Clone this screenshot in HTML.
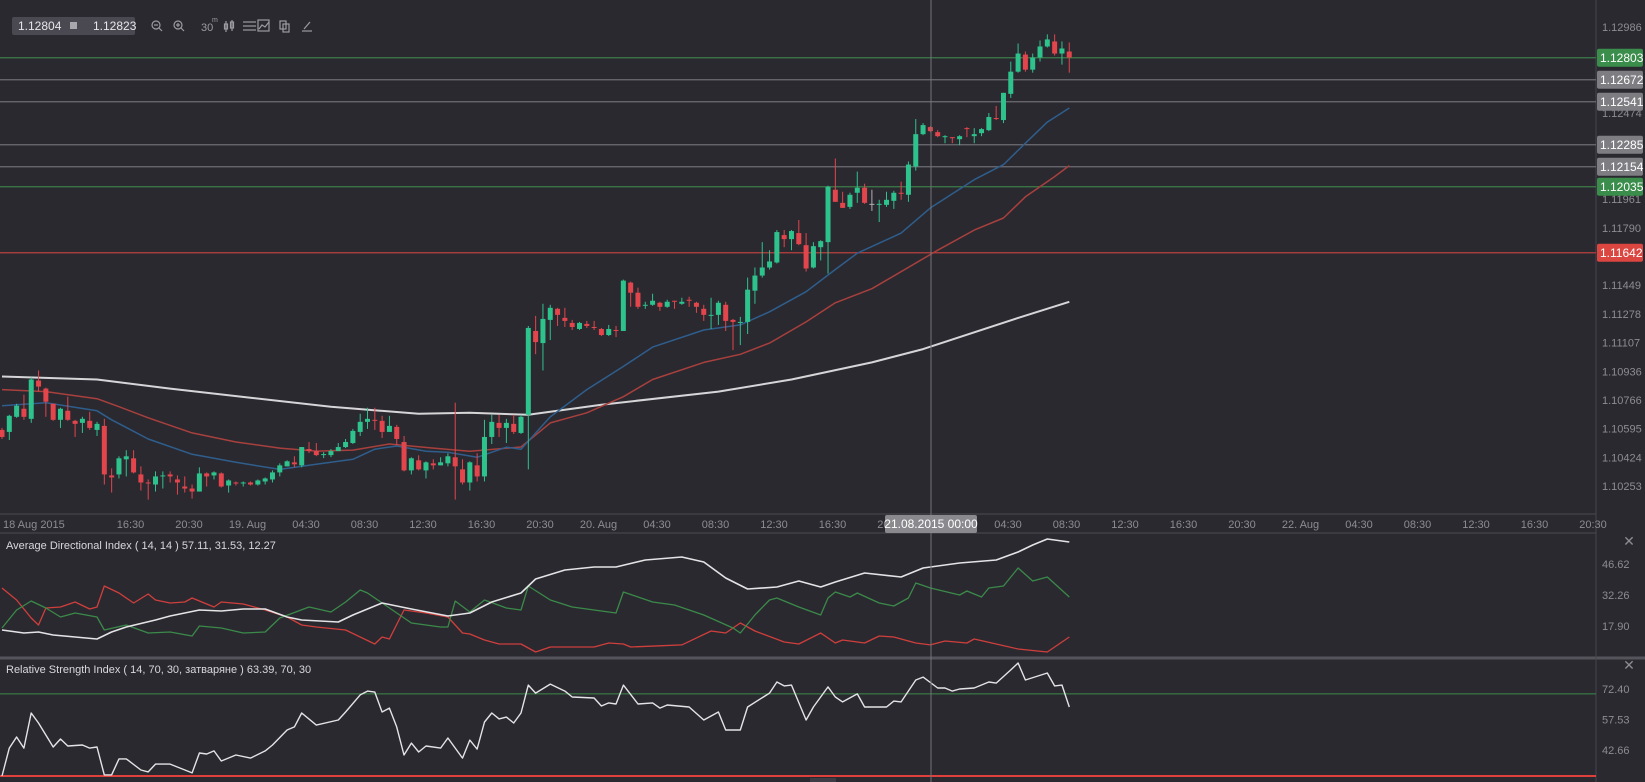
<!DOCTYPE html>
<html><head><meta charset="utf-8"><style>
html,body{margin:0;padding:0;background:#2a2930;overflow:hidden;}
svg{display:block;font-family:"Liberation Sans",sans-serif;}
</style></head><body>
<svg id="chart" width="1645" height="782" viewBox="0 0 1645 782" xmlns="http://www.w3.org/2000/svg">
<rect x="0" y="0" width="1645" height="782" fill="#2a2930"/>
<g id="grid-lines">
<line x1="0" y1="514" x2="1596" y2="514" stroke="#4b4a51" stroke-width="1"/>
<line x1="0" y1="533" x2="1596" y2="533" stroke="#4b4a51" stroke-width="1"/>
<line x1="0" y1="658" x2="1645" y2="658" stroke="#55545b" stroke-width="3"/>
<line x1="1596" y1="0" x2="1596" y2="782" stroke="#45444b" stroke-width="1"/>
</g>
<g id="levels"></g>
<g id="mas"></g>
<g id="candles"></g>
<g id="price-axis"></g>
<g id="level-tags"></g>
<g id="time-axis"></g>
<g id="adx"></g>
<g id="rsi"></g>
<line x1="931" y1="0" x2="931" y2="782" stroke="#75747a" stroke-width="1"/>
<g>
<rect x="885" y="515" width="92" height="18" rx="2" fill="#8a898e"/>
<text x="931" y="528" fill="#ffffff" font-size="12" text-anchor="middle">21.08.2015 00:00</text>
</g>
<text x="6" y="549" fill="#d8d8dc" font-size="11">Average Directional Index ( 14, 14 ) 57.11, 31.53, 12.27</text>
<text x="6" y="673" fill="#d8d8dc" font-size="11">Relative Strength Index ( 14, 70, 30, затваряне ) 63.39, 70, 30</text>
<text x="1629" y="546" fill="#8d8c93" font-size="14" text-anchor="middle">✕</text>
<text x="1629" y="670" fill="#8d8c93" font-size="14" text-anchor="middle">✕</text>
<rect x="810" y="778" width="26" height="4" fill="#3e3d45"/>
<g>
<rect x="12" y="17" width="123" height="18" rx="2" fill="#4a4951"/>
<text x="18" y="30" fill="#e6e6ea" font-size="12">1.12804</text>
<rect x="70" y="22" width="7" height="7" fill="#a8a7ae"/>
<text x="93" y="30" fill="#e6e6ea" font-size="12">1.12823</text>
<g stroke="#9c9ba2" fill="none" stroke-width="1.2">
<g><circle cx="156" cy="25" r="4"/><line x1="159" y1="28" x2="162" y2="31"/><line x1="154" y1="25" x2="158" y2="25"/></g>
<g><circle cx="178" cy="25" r="4"/><line x1="181" y1="28" x2="184" y2="31"/><line x1="176" y1="25" x2="180" y2="25"/><line x1="178" y1="23" x2="178" y2="27"/></g>
<g><line x1="226" y1="21" x2="226" y2="32"/><rect x="224.5" y="24" width="3" height="5"/><line x1="232" y1="20" x2="232" y2="31"/><rect x="230.5" y="22" width="3" height="6"/></g>
<g><line x1="243" y1="22" x2="256" y2="22"/><line x1="243" y1="26" x2="256" y2="26"/><line x1="243" y1="30" x2="256" y2="30"/></g>
<g><rect x="258" y="20" width="11" height="11"/><polyline points="259,29 262,25 265,27 269,22"/></g>
<g><rect x="280" y="21" width="6" height="8"/><rect x="283" y="24" width="6" height="8"/></g>
<g><line x1="302" y1="31" x2="312" y2="31"/><line x1="304" y1="29" x2="310" y2="22"/></g>
</g>
<text x="201" y="31" fill="#9c9ba2" font-size="11">30</text>
<text x="212" y="22" fill="#9c9ba2" font-size="7">m</text>
</g>
</svg>
<script>
// ---------- price data (30-min candles) ----------
const opens=[1.10587,1.10575,1.10665,1.10713,1.10653,1.10881,1.10833,1.10743,1.10647,1.10701,1.10641,1.10629,1.10641,1.10587,1.10611,1.10316,1.10322,1.10412,1.10418,1.10322,1.10274,1.10262,1.10310,1.10322,1.10292,1.10250,1.10238,1.10220,1.10328,1.10316,1.10328,1.10256,1.10274,1.10268,1.10274,1.10262,1.10280,1.10292,1.10334,1.10370,1.10394,1.10376,1.10473,1.10461,1.10437,1.10437,1.10461,1.10485,1.10509,1.10575,1.10635,1.10647,1.10641,1.10575,1.10605,1.10515,1.10346,1.10406,1.10346,1.10388,1.10376,1.10388,1.10424,1.10352,1.10274,1.10376,1.10310,1.10545,1.10629,1.10599,1.10623,1.10569,1.10677,1.11176,1.11104,1.11242,1.11308,1.11254,1.11224,1.11188,1.11218,1.11200,1.11188,1.11152,1.11182,1.11176,1.11464,1.11404,1.11326,1.11332,1.11344,1.11320,1.11356,1.11338,1.11362,1.11344,1.11308,1.11266,1.11272,1.11332,1.11242,1.11224,1.11230,1.11416,1.11506,1.11554,1.11584,1.11747,1.11723,1.11759,1.11687,1.11554,1.11675,1.11705,1.12017,1.11939,1.11915,1.11999,1.12029,1.11933,1.11927,1.11927,1.11951,1.11999,1.11987,1.12155,1.12348,1.12390,1.12360,1.12330,1.12330,1.12318,1.12384,1.12336,1.12354,1.12372,1.12444,1.12432,1.12588,1.12720,1.12822,1.12732,1.12804,1.12870,1.12900,1.12828,1.12840];
const highs=[1.10599,1.10677,1.10743,1.10797,1.10899,1.10941,1.10839,1.10743,1.10719,1.10785,1.10647,1.10665,1.10695,1.10635,1.10653,1.10358,1.10430,1.10466,1.10466,1.10370,1.10292,1.10340,1.10340,1.10340,1.10316,1.10310,1.10262,1.10364,1.10334,1.10340,1.10334,1.10292,1.10280,1.10280,1.10280,1.10292,1.10304,1.10346,1.10388,1.10406,1.10430,1.10485,1.10515,1.10509,1.10455,1.10473,1.10509,1.10533,1.10593,1.10683,1.10719,1.10719,1.10671,1.10671,1.10617,1.10551,1.10424,1.10436,1.10400,1.10412,1.10424,1.10448,1.10749,1.10412,1.10400,1.10448,1.10647,1.10677,1.10677,1.10653,1.10677,1.10677,1.11206,1.11266,1.11338,1.11332,1.11314,1.11314,1.11242,1.11230,1.11236,1.11236,1.11194,1.11212,1.11206,1.11482,1.11470,1.11434,1.11350,1.11398,1.11350,1.11362,1.11356,1.11374,1.11380,1.11350,1.11332,1.11374,1.11356,1.11350,1.11248,1.11260,1.11494,1.11554,1.11705,1.11657,1.11777,1.11777,1.11777,1.11837,1.11759,1.11705,1.11717,1.12041,1.12203,1.12005,1.11999,1.12125,1.12053,1.12017,1.11957,1.12005,1.12011,1.12065,1.12185,1.12438,1.12414,1.12396,1.12372,1.12342,1.12330,1.12342,1.12390,1.12384,1.12384,1.12474,1.12516,1.12594,1.12780,1.12888,1.12840,1.12828,1.12906,1.12942,1.12942,1.12900,1.12894];
const lows=[1.10533,1.10527,1.10659,1.10647,1.10629,1.10815,1.10665,1.10641,1.10599,1.10641,1.10545,1.10569,1.10587,1.10551,1.10262,1.10214,1.10298,1.10310,1.10328,1.10226,1.10172,1.10220,1.10238,1.10274,1.10202,1.10214,1.10178,1.10220,1.10250,1.10292,1.10244,1.10214,1.10256,1.10250,1.10256,1.10256,1.10262,1.10274,1.10310,1.10370,1.10364,1.10364,1.10449,1.10431,1.10419,1.10425,1.10461,1.10479,1.10503,1.10551,1.10593,1.10587,1.10539,1.10575,1.10497,1.10340,1.10322,1.10346,1.10298,1.10352,1.10376,1.10370,1.10172,1.10262,1.10226,1.10280,1.10280,1.10503,1.10545,1.10509,1.10563,1.10563,1.10352,1.11038,1.10941,1.11122,1.11206,1.11200,1.11182,1.11182,1.11194,1.11182,1.11146,1.11146,1.11140,1.11176,1.11320,1.11308,1.11308,1.11326,1.11296,1.11314,1.11308,1.11332,1.11320,1.11284,1.11236,1.11188,1.11212,1.11176,1.11062,1.11092,1.11158,1.11338,1.11494,1.11542,1.11578,1.11675,1.11657,1.11687,1.11530,1.11548,1.11596,1.11518,1.11945,1.11909,1.11903,1.11939,1.11933,1.11891,1.11825,1.11915,1.11903,1.11957,1.11945,1.12131,1.12342,1.12360,1.12330,1.12294,1.12294,1.12282,1.12330,1.12294,1.12336,1.12366,1.12432,1.12414,1.12564,1.12714,1.12720,1.12714,1.12780,1.12864,1.12816,1.12762,1.12714];
const closes=[1.10545,1.10671,1.10731,1.10665,1.10887,1.10845,1.10755,1.10647,1.10713,1.10647,1.10623,1.10653,1.10599,1.10623,1.10322,1.10304,1.10418,1.10430,1.10334,1.10274,1.10268,1.10310,1.10316,1.10310,1.10274,1.10238,1.10220,1.10328,1.10310,1.10334,1.10250,1.10286,1.10268,1.10274,1.10262,1.10286,1.10298,1.10334,1.10376,1.10400,1.10382,1.10485,1.10461,1.10437,1.10443,1.10461,1.10485,1.10515,1.10581,1.10635,1.10653,1.10641,1.10575,1.10611,1.10533,1.10346,1.10418,1.10352,1.10394,1.10376,1.10394,1.10430,1.10370,1.10274,1.10394,1.10310,1.10545,1.10635,1.10599,1.10629,1.10575,1.10665,1.11194,1.11110,1.11248,1.11314,1.11272,1.11236,1.11200,1.11224,1.11206,1.11194,1.11152,1.11188,1.11176,1.11476,1.11404,1.11320,1.11332,1.11356,1.11320,1.11350,1.11350,1.11350,1.11356,1.11320,1.11272,1.11272,1.11344,1.11236,1.11230,1.11230,1.11422,1.11506,1.11554,1.11590,1.11765,1.11723,1.11771,1.11693,1.11548,1.11681,1.11711,1.12035,1.11945,1.11909,1.11987,1.12029,1.11939,1.11933,1.11933,1.11957,1.11999,1.11993,1.12167,1.12348,1.12402,1.12366,1.12336,1.12336,1.12324,1.12336,1.12378,1.12348,1.12378,1.12450,1.12438,1.12594,1.12720,1.12828,1.12732,1.12804,1.12870,1.12912,1.12828,1.12858,1.12804];
// moving averages (sampled at candle indices)
const maWhiteIdx=[0,13,23,34,45,57,64,72,82,98,108,119,126,139,146];
const maWhite=[1.10905,1.10887,1.10833,1.10779,1.10725,1.10683,1.10689,1.10677,1.10737,1.10815,1.10887,1.10989,1.11068,1.11254,1.11350];
const maBlueIdx=[0,6,13,15,20,26,32,38,43,48,51,54,58,61,65,69,71,75,80,85,89,96,101,105,110,114,117,123,127,133,137,140,143,146];
const maBlue=[1.10731,1.10749,1.10701,1.10647,1.10533,1.10442,1.10394,1.10352,1.10382,1.10412,1.10472,1.10491,1.10460,1.10454,1.10424,1.10484,1.10472,1.10665,1.10827,1.10965,1.11080,1.11182,1.11212,1.11290,1.11410,1.11542,1.11639,1.11759,1.11909,1.12077,1.12167,1.12294,1.12420,1.12504];
const maRedIdx=[0,6,13,16,20,26,32,38,43,48,53,59,64,71,75,80,85,89,96,101,105,110,114,119,128,133,137,140,144,146];
const maRed=[1.10827,1.10815,1.10773,1.10725,1.10659,1.10569,1.10515,1.10479,1.10461,1.10467,1.10503,1.10479,1.10460,1.10485,1.10629,1.10689,1.10785,1.10887,1.10989,1.11037,1.11104,1.11230,1.11344,1.11428,1.11657,1.11777,1.11849,1.11975,1.12095,1.12161];
// horizontal levels
const levelPrices=[1.12803,1.12672,1.12541,1.12285,1.12154,1.12035,1.11642];
const levelKinds=["green","grey","grey","grey","grey","green","red"];
const priceTicks=[1.12986,1.12474,1.11961,1.11790,1.11449,1.11278,1.11107,1.10936,1.10766,1.10595,1.10424,1.10253];
// time axis
const timeLabels=["16:30","20:30","19. Aug","04:30","08:30","12:30","16:30","20:30","20. Aug","04:30","08:30","12:30","16:30","20:30","21. Aug","04:30","08:30","12:30","16:30","20:30","22. Aug","04:30","08:30","12:30","16:30","20:30"];
// ADX (14,14)
const adxIdx=[0,3,5,7,10,13,15,17,21,23,27,30,33,36,39,41,46,48,52,56,61,64,67,71,73,77,81,84,88,93,96,99,102,106,109,112,114,118,123,126,131,136,139,141,143,146];
const adxVals=[16.04,14.65,15.11,13.73,12.80,11.87,15.11,17.43,20.68,22.53,25.31,24.85,25.77,25.77,22.07,20.68,19.75,22.99,28.55,25.77,22.53,23.92,29.02,33.19,39.67,43.84,45.23,45.23,48.47,49.86,47.54,40.13,35.04,35.97,38.75,35.97,38.28,42.45,40.60,44.77,47.09,48.47,52.18,55.42,58.20,56.80];
const plusDiIdx=[0,2,4,6,8,10,13,14,17,20,23,26,27,30,33,36,38,42,45,47,49,50,56,60,61,62,64,66,69,71,72,75,78,83,84,85,89,92,96,100,101,103,105,106,109,112,113,114,116,117,120,122,124,125,127,131,132,134,135,137,139,141,143,146];
const plusDi=[16.97,25.31,29.48,26.24,22.07,23.92,22.07,16.04,18.36,14.65,15.11,13.26,17.89,16.97,14.65,15.11,21.60,26.70,24.39,29.02,34.60,33.19,19.29,17.43,17.43,29.48,24.39,29.94,26.24,25.31,36.42,29.94,26.70,24.39,23.92,33.65,29.02,27.63,22.99,16.97,14.65,22.99,29.94,30.86,26.70,22.99,30.86,33.65,31.33,33.19,28.55,27.17,30.86,37.82,35.50,32.26,34.11,31.33,35.50,36.42,44.77,38.75,40.60,31.33];
const minusDiIdx=[0,2,4,5,6,8,10,12,13,14,16,18,20,21,23,25,26,29,30,33,36,39,41,43,47,51,52,53,55,58,61,63,64,66,68,71,73,75,78,81,83,85,86,90,93,97,99,101,103,107,109,112,114,115,118,120,122,125,127,129,132,133,136,139,143,146];
const minusDi=[35.50,29.94,21.60,18.36,26.24,26.70,29.02,25.77,26.70,36.42,33.19,28.55,32.73,29.94,28.55,29.02,30.86,26.70,29.02,28.09,25.31,22.07,18.36,17.43,16.04,9.55,12.80,11.87,25.31,23.92,22.07,14.65,14.19,11.41,9.55,9.55,5.85,8.17,8.17,8.17,10.02,9.55,8.17,8.71,9.15,15.58,14.65,19.29,15.58,10.48,9.55,14.65,10.02,11.41,10.02,13.26,12.80,10.02,9.15,10.95,10.02,11.87,9.55,7.24,5.85,12.80];
const adxTicks=[46.62,32.26,17.90];
// RSI (14)
const rsiIdx=[0,1,2,3,4,5,7,8,9,11,12,13,14,15,16,17,19,20,21,23,26,27,28,29,30,32,34,36,37,39,40,41,43,46,47,49,50,51,52,53,54,55,56,57,58,60,61,63,64,65,66,67,68,69,70,71,72,73,75,77,78,81,82,83,84,85,87,89,90,91,94,96,98,99,101,102,105,106,107,108,110,111,113,114,115,117,118,121,122,123,125,126,128,129,130,131,133,135,136,138,139,140,143,144,145,146];
const rsiVals=[30.0,43.6,49.0,43.6,60.7,55.8,44.1,48.0,44.6,45.1,43.6,44.1,30.5,30.5,38.3,38.3,32.9,32.0,35.8,35.8,31.5,41.2,40.7,42.2,37.3,40.2,38.7,42.2,45.1,52.4,53.9,60.7,54.8,57.3,61.2,69.5,71.4,70.9,61.2,63.1,53.9,40.2,46.0,41.7,44.6,43.6,48.5,38.7,47.5,43.1,56.3,60.7,57.8,58.7,55.8,60.7,74.3,70.4,74.8,71.4,68.5,68.0,64.1,65.6,65.1,74.3,65.1,65.6,63.1,64.6,63.6,57.3,61.2,52.4,52.4,63.6,70.4,75.8,73.9,74.3,57.3,63.6,73.4,68.5,66.1,70.0,63.6,63.6,66.5,66.1,76.8,78.2,72.9,72.9,71.4,72.4,72.9,75.8,75.3,81.7,85.1,76.8,80.2,73.9,74.3,63.6];
const rsiTicks=[72.40,57.53,42.66];
const rsiLevels=[70,30];

// ---------- axis functions ----------
const NS="http://www.w3.org/2000/svg";
const xOf=i=>2+7.31*i;
const yP=p=>27+(1.12986-p)*16795;
const yA=v=>564+(46.62-v)*2.159;
const yR=v=>689+(72.40-v)*2.051;
function mk(tag,attrs,parent){const e=document.createElementNS(NS,tag);for(const k in attrs)e.setAttribute(k,attrs[k]);parent.appendChild(e);return e;}

// levels
const gL=document.getElementById('levels');
const lvlColor={green:"#3c7d48",grey:"#6e6d73",red:"#b8403e"};
const tagColor={green:"#3a8d4a",grey:"#7e7d82",red:"#dc4640"};
const gT=document.getElementById('level-tags');
levelPrices.forEach((p,k)=>{
  const ln=mk('line',{x1:0,x2:1596,y1:yP(p),y2:yP(p),stroke:lvlColor[levelKinds[k]],'stroke-width':1.3},gL);
  
  
});
// price ticks
const gPA=document.getElementById('price-axis');
priceTicks.forEach(p=>{
  const t=mk('text',{x:1602,y:yP(p)+4,fill:'#8d8c93','font-size':11},gPA);
  t.textContent=p.toFixed(5);
  
  
});
levelPrices.forEach((p,k)=>{
  const g=mk('g',{},gT);
  
  
  mk('rect',{x:1597,y:yP(p)-9,width:46,height:18,rx:2,fill:tagColor[levelKinds[k]]},g);
  const t=mk('text',{x:1600,y:yP(p)+4.5,fill:'#ffffff','font-size':12},g);
  t.textContent=p.toFixed(5);
});
// MAs
function poly(idx,vals,yf,color,w,name,parent){
  const pts=idx.map((i,k)=>xOf(i).toFixed(1)+','+yf(vals[k]).toFixed(1)).join(' ');
  const e=mk('polyline',{points:pts,fill:'none',stroke:color,'stroke-width':w,'stroke-linejoin':'round'},parent);
  
  
  return e;
}
const gM=document.getElementById('mas');
poly(maWhiteIdx,maWhite,yP,'#d6d6d8',2,'ma-white-line',gM);
poly(maRedIdx,maRed,yP,'#a8403d',1.5,'ma-red-line',gM);
poly(maBlueIdx,maBlue,yP,'#2f5e8c',1.5,'ma-blue-line',gM);
// candles
const gC=document.getElementById('candles');
opens.forEach((o,i)=>{
  const c=closes[i],x=xOf(i);
  const col=c>o?'#2ec28d':(c<o?'#e2454c':'#b0afb5');
  const g=mk('g',{},gC);
  
  
  mk('line',{x1:x,x2:x,y1:yP(highs[i]),y2:yP(lows[i]),stroke:col,'stroke-width':1},g);
  const yt=yP(Math.max(o,c)),yb=yP(Math.min(o,c));
  mk('rect',{x:x-2.5,y:yt,width:5,height:Math.max(1,yb-yt),fill:col},g);
});
// time axis
const gX=document.getElementById('time-axis');
let t0=mk('text',{x:3,y:528,fill:'#8d8c93','font-size':11},gX);
t0.textContent='18 Aug 2015';


timeLabels.forEach((s,k)=>{
  const t=mk('text',{x:130.5+58.5*k,y:528,fill:'#8d8c93','font-size':11,'text-anchor':'middle'},gX);
  t.textContent=s;
  
  
});
// ADX panel
const gA=document.getElementById('adx');
adxTicks.forEach(v=>{
  const t=mk('text',{x:1602,y:yA(v)+4,fill:'#8d8c93','font-size':11},gA);
  t.textContent=v.toFixed(2);
  
  
});
poly(minusDiIdx,minusDi,yA,'#cf3f3c',1.3,'minus-di-line',gA);
poly(plusDiIdx,plusDi,yA,'#3b8a49',1.3,'plus-di-line',gA);
poly(adxIdx,adxVals,yA,'#e4e4e6',1.6,'adx-line',gA);
// RSI panel
const gR=document.getElementById('rsi');
rsiTicks.forEach(v=>{
  const t=mk('text',{x:1602,y:yR(v)+4,fill:'#8d8c93','font-size':11},gR);
  t.textContent=v.toFixed(2);
  
  
});
rsiLevels.forEach((v,k)=>{
  const l=mk('line',{x1:0,x2:1596,y1:yR(v),y2:yR(v),stroke:k===0?'#3c8a4a':'#e0403c','stroke-width':k===0?1:2},gR);
  
  
});
poly(rsiIdx,rsiVals,yR,'#e4e4e6',1.4,'rsi-line',gR);
</script>
</body></html>
